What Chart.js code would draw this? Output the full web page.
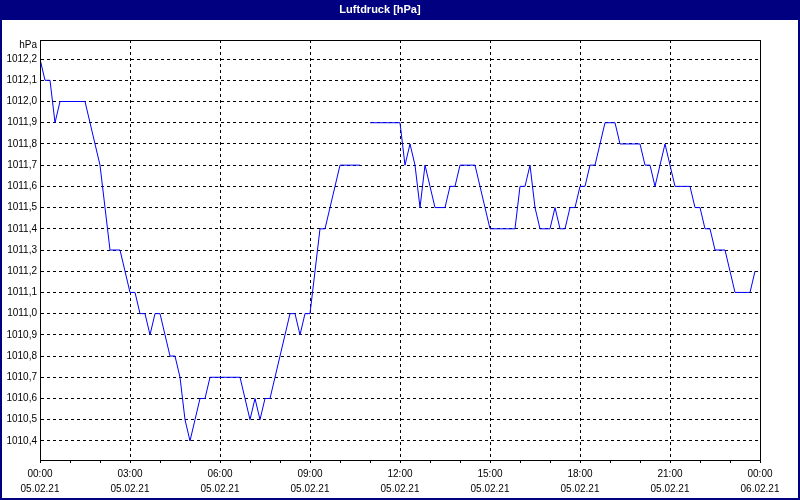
<!DOCTYPE html>
<html>
<head>
<meta charset="utf-8">
<script src="https://cdn.jsdelivr.net/npm/chart.js@4.4.1/dist/chart.umd.min.js"></script>
<style>
  html, body { margin: 0; padding: 0; background: #fff; }
  #wrap { width: 800px; height: 500px; }
</style>
</head>
<body>
<div id="wrap"><canvas id="chart" width="800" height="500"></canvas></div>
<script>
const chartTitle = "Luftdruck [hPa]";
const unitLabel = "hPa";
const sampleMinutes = 10;

// air pressure every 10 minutes, 05.02.21 00:00 .. 23:50 (null = no reading)
const pressure = [
  1012.2, 1012.1, 1012.1, 1011.9, 1012.0, 1012.0, 1012.0, 1012.0, 1012.0, 1012.0,
  1011.9, 1011.8, 1011.7, 1011.5, 1011.3, 1011.3, 1011.3, 1011.2, 1011.1, 1011.1,
  1011.0, 1011.0, 1010.9, 1011.0, 1011.0, 1010.9, 1010.8, 1010.8, 1010.7, 1010.5,
  1010.4, 1010.5, 1010.6, 1010.6, 1010.7, 1010.7, 1010.7, 1010.7, 1010.7, 1010.7,
  1010.7, 1010.6, 1010.5, 1010.6, 1010.5, 1010.6, 1010.6, 1010.7, 1010.8, 1010.9,
  1011.0, 1011.0, 1010.9, 1011.0, 1011.0, 1011.2, 1011.4, 1011.4, 1011.5, 1011.6,
  1011.7, 1011.7, 1011.7, 1011.7, 1011.7, null,   1011.9, 1011.9, 1011.9, 1011.9,
  1011.9, 1011.9, 1011.9, 1011.7, 1011.8, 1011.7, 1011.5, 1011.7, 1011.6, 1011.5,
  1011.5, 1011.5, 1011.6, 1011.6, 1011.7, 1011.7, 1011.7, 1011.7, 1011.6, 1011.5,
  1011.4, 1011.4, 1011.4, 1011.4, 1011.4, 1011.4, 1011.6, 1011.6, 1011.7, 1011.5,
  1011.4, 1011.4, 1011.4, 1011.5, 1011.4, 1011.4, 1011.5, 1011.5, 1011.6, 1011.6,
  1011.7, 1011.7, 1011.8, 1011.9, 1011.9, 1011.9, 1011.8, 1011.8, 1011.8, 1011.8,
  1011.8, 1011.7, 1011.7, 1011.6, 1011.7, 1011.8, 1011.7, 1011.6, 1011.6, 1011.6,
  1011.6, 1011.5, 1011.5, 1011.4, 1011.4, 1011.3, 1011.3, 1011.3, 1011.2, 1011.1,
  1011.1, 1011.1, 1011.1, 1011.2
];

// labels under every third hour
const timeLabels = ["00:00", "03:00", "06:00", "09:00", "12:00", "15:00", "18:00", "21:00", "00:00"];
const dateLabels = ["05.02.21", "05.02.21", "05.02.21", "05.02.21", "05.02.21", "05.02.21", "05.02.21", "05.02.21", "06.02.21"];

const points = pressure.map((v, i) => ({ x: i * sampleMinutes / 60, y: v }));

const navy = "#000080";
const tickFont = { family: "'Liberation Sans', Arial, sans-serif", size: 10 };

const framePlugin = {
  id: "frame",
  beforeDraw(chart) {
    const { ctx, width, height } = chart;
    ctx.save();
    ctx.fillStyle = "#fff";
    ctx.fillRect(0, 0, width, height);
    ctx.fillStyle = navy;
    ctx.fillRect(0, 0, width, 20);
    ctx.restore();
  },
  afterDraw(chart) {
    const { ctx, width, height, chartArea: a } = chart;
    ctx.save();
    // plot box
    ctx.strokeStyle = "#000";
    ctx.lineWidth = 1;
    ctx.strokeRect(a.left + 0.5, a.top + 0.5, a.right - a.left, a.bottom - a.top);
    // outer frame
    ctx.strokeStyle = navy;
    ctx.lineWidth = 2;
    ctx.strokeRect(1, 1, width - 2, height - 2);
    // unit
    ctx.fillStyle = "#000";
    ctx.font = "10px 'Liberation Sans', Arial, sans-serif";
    ctx.textAlign = "right";
    ctx.textBaseline = "middle";
    ctx.fillText(unitLabel, a.left - 3, a.top + 5);
    ctx.restore();
  }
};

new Chart(document.getElementById("chart"), {
  type: "line",
  data: {
    datasets: [{
      label: chartTitle,
      data: points,
      borderColor: "#0000ff",
      borderWidth: 1,
      pointRadius: 0,
      tension: 0,
      spanGaps: false,
      fill: false
    }]
  },
  options: {
    responsive: false,
    animation: false,
    devicePixelRatio: 1,
    layout: { padding: { left: 0, right: 40, top: 0, bottom: 0 } },
    plugins: {
      legend: { display: false },
      tooltip: { enabled: false },
      title: {
        display: true,
        text: chartTitle,
        color: "#fff",
        font: { family: "'Liberation Sans', Arial, sans-serif", size: 11, weight: "bold", lineHeight: 1 },
        padding: { top: 4, bottom: 25 }
      }
    },
    scales: {
      x: {
        type: "linear",
        min: 0,
        max: 24,
        afterFit(scale) { scale.height = 40; },
        border: { display: true, color: "#000", dash: [3, 3] },
        grid: {
          color: (c) => (c.tick && c.tick.value % 3 === 0 ? "#000" : "rgba(0,0,0,0)"),
          tickColor: "#000",
          tickLength: 3,
          drawTicks: true
        },
        ticks: {
          stepSize: 1,
          autoSkip: false,
          maxRotation: 0,
          padding: 4,
          color: "#000",
          font: { ...tickFont, lineHeight: 1.5 },
          callback: (v) => (v % 3 === 0 ? [timeLabels[v / 3], dateLabels[v / 3]] : "")
        }
      },
      y: {
        min: 1010.31,
        max: 1012.29,
        afterFit(scale) { scale.width = 40; },
        border: { display: true, color: "#000", dash: [3, 3] },
        grid: { color: "#000", drawTicks: false },
        ticks: {
          stepSize: 0.1,
          includeBounds: false,
          padding: 3,
          color: "#000",
          font: tickFont,
          callback: (v) => v.toFixed(1).replace(".", ",")
        }
      }
    }
  },
  plugins: [framePlugin]
});
</script>
</body>
</html>
